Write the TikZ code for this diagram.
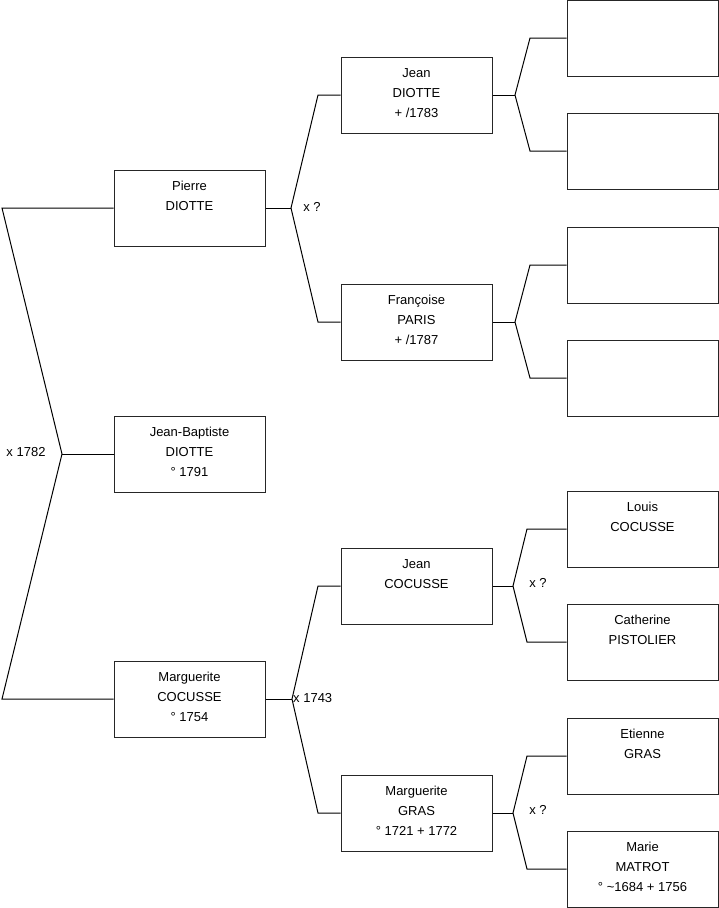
\documentclass[tikz,border=0pt]{standalone}
\usepackage{fontspec}
\setmainfont{Liberation Sans}

\tikzset{
  personbox/.style={draw=black!85, line width=1pt, minimum width=151pt,
                    minimum height=76pt, inner sep=0pt},
  link/.style={line width=1pt},
  mariage/.style={inner sep=0pt, font=\fontsize{13}{20}\selectfont},
}
% contenu d'une fiche : lignes centrees, en haut de la case
\newcommand{\fiche}[1]{\parbox[c][76pt][t]{148pt}{\centering
  \fontsize{13}{20}\selectfont\rule{0pt}{20.5pt}#1}}

\begin{document}
\begin{tikzpicture}[x=1pt,y=-1pt]
      \useasboundingbox (0,0) rectangle (719,908);
%
      % generation 1
      \node[personbox] (pierre) at (189.5,208) {\fiche{Pierre\\DIOTTE}};
      \node[personbox] (jbapt)  at (189.5,454) {\fiche{Jean-Baptiste\\DIOTTE\\° 1791}};
      \node[personbox] (margc)  at (189.5,699) {\fiche{Marguerite\\COCUSSE\\° 1754}};
%
      % generation 2
      \node[personbox] (jeand)     at (416.5,95)  {\fiche{Jean\\DIOTTE\\+ /1783}};
      \node[personbox] (francoise) at (416.5,322) {\fiche{Françoise\\PARIS\\+ /1787}};
      \node[personbox] (jeanc)     at (416.5,586) {\fiche{Jean\\COCUSSE}};
      \node[personbox] (margg)     at (416.5,813) {\fiche{Marguerite\\GRAS\\° 1721 + 1772}};
%
      % generation 3
      \node[personbox] (vide1)     at (642.5,38)  {};
      \node[personbox] (vide2)     at (642.5,151) {};
      \node[personbox] (vide3)     at (642.5,265) {};
      \node[personbox] (vide4)     at (642.5,378) {};
      \node[personbox] (louis)     at (642.5,529) {\fiche{Louis\\COCUSSE}};
      \node[personbox] (catherine) at (642.5,642) {\fiche{Catherine\\PISTOLIER}};
      \node[personbox] (etienne)   at (642.5,756) {\fiche{Etienne\\GRAS}};
      \node[personbox] (marie)     at (642.5,869) {\fiche{Marie\\MATROT\\° \textasciitilde1684 + 1756}};
%
      % jean-baptiste
      \coordinate (a1) at (2,208);
      \coordinate (a2) at (62,454);
      \coordinate (a3) at (2,699);
      \draw[link] (pierre.west) -- (a1) -- (a2) -- (a3) -- (margc.west);
      \draw[link] (a2) -- (jbapt.west);
      \node[mariage] (xa) at (26,452) {x 1782};
%
      % pierre
      \coordinate (b1) at (291,208);
      \coordinate (b2) at (318,95);
      \coordinate (b3) at (318,322);
      \draw[link] (jeand.west) -- (b2) -- (b1) -- (b3) -- (francoise.west);
      \draw[link] (pierre.east) -- (b1);
      \node[mariage] (xb) at (312,207) {x ?};
%
      % marguerite
      \coordinate (c1) at (292,699);
      \coordinate (c2) at (318,586);
      \coordinate (c3) at (318,813);
      \draw[link] (jeanc.west) -- (c2) -- (c1) -- (c3) -- (margg.west);
      \draw[link] (margc.east) -- (c1);
      \node[mariage,anchor=west] (xc) at (293,698) {x 1743};
%
      % jean diotte
      \coordinate (d1) at (515,95);
      \coordinate (d2) at (530,38);
      \coordinate (d3) at (530,151);
      \draw[link] (vide1.west) -- (d2) -- (d1) -- (d3) -- (vide2.west);
      \draw[link] (jeand.east) -- (d1);
%
      % francoise
      \coordinate (f1) at (515,322);
      \coordinate (f2) at (530,265);
      \coordinate (f3) at (530,378);
      \draw[link] (vide3.west) -- (f2) -- (f1) -- (f3) -- (vide4.west);
      \draw[link] (francoise.east) -- (f1);
%
      % jean cocusse
      \coordinate (g1) at (513,586);
      \coordinate (g2) at (527,529);
      \coordinate (g3) at (527,642);
      \draw[link] (louis.west) -- (g2) -- (g1) -- (g3) -- (catherine.west);
      \draw[link] (jeanc.east) -- (g1);
      \node[mariage] (xg) at (538,583) {x ?};
%
      % marguerite gras
      \coordinate (h1) at (513,813);
      \coordinate (h2) at (527,756);
      \coordinate (h3) at (527,869);
      \draw[link] (etienne.west) -- (h2) -- (h1) -- (h3) -- (marie.west);
      \draw[link] (margg.east) -- (h1);
      \node[mariage] (xh) at (538,810) {x ?};
    \end{tikzpicture}
\end{document}
